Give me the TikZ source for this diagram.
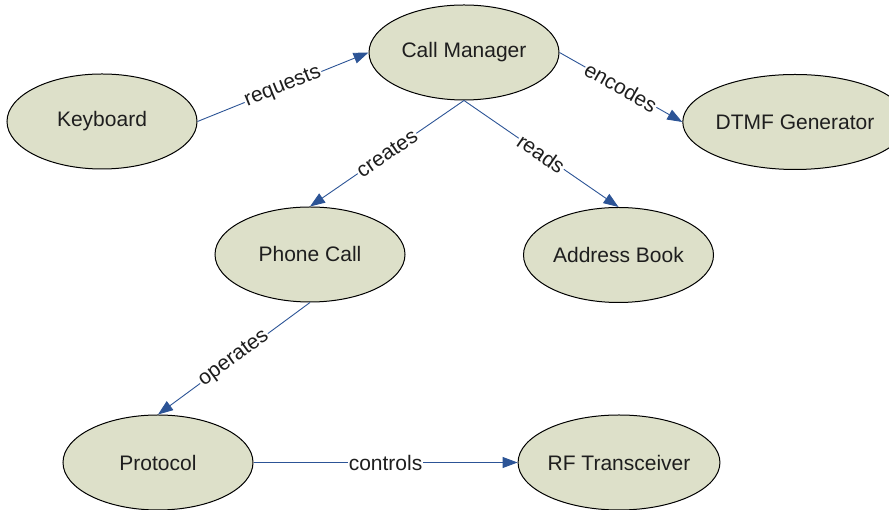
\documentclass[tikz,border=0pt]{standalone}
\usepackage{fontspec}
\setmainfont{Liberation Sans}
\usetikzlibrary{shapes.geometric,arrows.meta}
\definecolor{nodefill}{RGB}{221,224,201}
\definecolor{edgeblue}{RGB}{44,84,150}
\definecolor{inkgray}{RGB}{30,30,30}
\tikzset{
  concept/.style={ellipse, draw=black, line width=1pt, fill=nodefill,
    minimum width=190pt, minimum height=95pt, inner sep=0pt,
    text=inkgray, font=\fontsize{21}{25}\selectfont},
  relation/.style={draw=edgeblue, line width=0.9pt,
    -{Triangle[length=15pt,width=11pt]}, shorten >=0pt},
  rellabel/.style={midway, sloped, fill=white, inner sep=1pt,
    text=inkgray, font=\fontsize{21}{25}\selectfont}
}
\begin{document}
\begin{tikzpicture}[x=1pt,y=1pt]
\useasboundingbox (0,0) rectangle (889,510);
% concepts
\node[concept] (kb)    at (102,388.5) {Keyboard};
\node[concept] (cm)    at (464,457.5) {Call Manager};
\node[concept, minimum width=187pt] (dtmf) at (795,388) {DTMF Generator};
\node[concept] (pc)    at (310,255.5) {Phone Call};
\node[concept] (ab)    at (618.5,255) {Address Book};
\node[concept] (proto) at (158,47.5) {Protocol};
\node[concept] (rf)    at (619,47.5) {RF Transceiver};
% relations
\draw[relation] (kb.east)  -- (cm.west)   node[rellabel] {requests};
\draw[relation] (cm.east)  -- (dtmf.west) node[rellabel] {encodes};
\draw[relation] (cm.south) -- (pc.north)  node[rellabel] {creates};
\draw[relation] (cm.south) -- (ab.north)  node[rellabel] {reads};
\draw[relation] (pc.south) -- (proto.north) node[rellabel] {operates};
\draw[relation] (proto.east) -- (rf.west) node[rellabel] {controls};
\end{tikzpicture}
\end{document}
